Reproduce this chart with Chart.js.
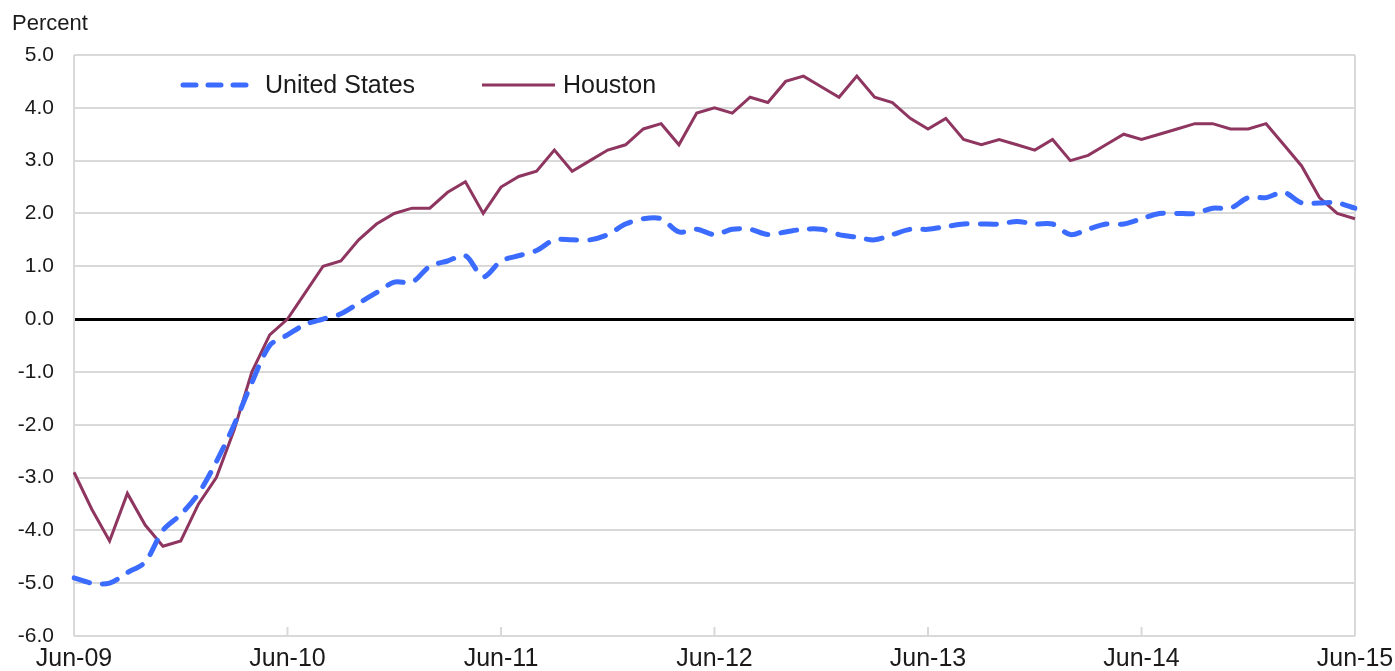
<!DOCTYPE html>
<html>
<head>
<meta charset="utf-8">
<script src="https://cdn.jsdelivr.net/npm/chart.js@4.4.0/dist/chart.umd.min.js"></script>
<style>
  html, body { margin: 0; padding: 0; background: #fff; }
  #wrap { position: relative; width: 1395px; height: 671px; }
</style>
</head>
<body>
<div id="wrap"><canvas id="chart" width="1395" height="671"></canvas></div>
<script>
// monthly, Jun-09 .. Jun-15
const monthNames = ['Jan', 'Feb', 'Mar', 'Apr', 'May', 'Jun', 'Jul', 'Aug', 'Sep', 'Oct', 'Nov', 'Dec'];
const months = [];
for (let y = 2009; y <= 2015; y++) {
  for (let m = 0; m < 12; m++) {
    if ((y === 2009 && m < 5) || (y === 2015 && m > 5)) continue;
    months.push(monthNames[m] + '-' + String(y).slice(2));
  }
}

const unitedStates = [
  -4.9, -5.0, -5.0, -4.8, -4.6, -4.0, -3.7, -3.3, -2.7, -2.0, -1.2, -0.5,
  -0.3, -0.1, 0.0, 0.1, 0.3, 0.5, 0.7, 0.7, 1.0, 1.1, 1.2, 0.8,
  1.1, 1.2, 1.3, 1.5, 1.5, 1.5, 1.6, 1.8, 1.9, 1.9, 1.65, 1.7,
  1.6, 1.7, 1.7, 1.6, 1.65, 1.7, 1.7, 1.6, 1.55, 1.5, 1.6, 1.7,
  1.7, 1.75, 1.8, 1.8, 1.8, 1.85, 1.8, 1.8, 1.6, 1.7, 1.8, 1.8,
  1.9, 2.0, 2.0, 2.0, 2.1, 2.1, 2.3, 2.3, 2.4, 2.2, 2.2, 2.2,
  2.1
];

const houston = [
  -2.9, -3.6, -4.2, -3.3, -3.9, -4.3, -4.2, -3.5, -3.0, -2.1, -1.0, -0.3,
  0.0, 0.5, 1.0, 1.1, 1.5, 1.8, 2.0, 2.1, 2.1, 2.4, 2.6, 2.0,
  2.5, 2.7, 2.8, 3.2, 2.8, 3.0, 3.2, 3.3, 3.6, 3.7, 3.3, 3.9,
  4.0, 3.9, 4.2, 4.1, 4.5, 4.6, 4.4, 4.2, 4.6, 4.2, 4.1, 3.8,
  3.6, 3.8, 3.4, 3.3, 3.4, 3.3, 3.2, 3.4, 3.0, 3.1, 3.3, 3.5,
  3.4, 3.5, 3.6, 3.7, 3.7, 3.6, 3.6, 3.7, 3.3, 2.9, 2.3, 2.0,
  1.9
];

const tickLabels = ['Jun-09', 'Jun-10', 'Jun-11', 'Jun-12', 'Jun-13', 'Jun-14', 'Jun-15'];

const FONT = "'Liberation Sans', Arial, sans-serif";
const TEXT = '#1a1a1a';
const GRID = '#d9d9d9';

// frame, inner year ticks, "Percent" label and the legend
const decorations = {
  id: 'decorations',
  beforeDatasetsDraw(chart) {
    const { ctx, chartArea: a, scales } = chart;
    ctx.save();
    ctx.strokeStyle = GRID;
    ctx.lineWidth = 2;
    ctx.beginPath();
    ctx.moveTo(a.left, a.top); ctx.lineTo(a.left, a.bottom);
    ctx.moveTo(a.right, a.top); ctx.lineTo(a.right, a.bottom);
    months.forEach((m, i) => {
      if (i % 12 !== 0) return;
      const x = scales.x.getPixelForValue(i);
      ctx.moveTo(x, a.bottom); ctx.lineTo(x, a.bottom - 9);
    });
    ctx.stroke();
    ctx.restore();
  },
  afterDraw(chart) {
    const { ctx, chartArea: a } = chart;
    ctx.save();
    ctx.fillStyle = TEXT;
    ctx.font = '22px ' + FONT;
    ctx.textBaseline = 'alphabetic';
    ctx.fillText('Percent', 12, 30);

    const items = [
      { ds: chart.data.datasets[0], x0: a.left + 109, x1: a.left + 174, gap: 17, dash: [13, 12] },
      { ds: chart.data.datasets[1], x0: a.left + 408, x1: a.left + 481, gap: 8, dash: [] }
    ];
    const y = a.top + 30;
    ctx.font = '25px ' + FONT;
    ctx.textBaseline = 'middle';
    items.forEach(it => {
      ctx.strokeStyle = it.ds.borderColor;
      ctx.lineWidth = it.ds.borderWidth;
      ctx.lineCap = it.ds.borderCapStyle || 'butt';
      ctx.setLineDash(it.dash);
      ctx.beginPath();
      ctx.moveTo(it.x0, y); ctx.lineTo(it.x1, y);
      ctx.stroke();
      ctx.setLineDash([]);
      ctx.fillText(it.ds.label, it.x1 + it.gap, y + 1);
    });
    ctx.restore();
  }
};

new Chart(document.getElementById('chart'), {
  type: 'line',
  data: {
    labels: months,
    datasets: [
      {
        label: 'United States',
        data: unitedStates,
        borderColor: '#3b6cff',
        borderWidth: 5,
        borderDash: [16, 13],
        borderCapStyle: 'round',
        pointRadius: 0,
        tension: 0.3,
        fill: false
      },
      {
        label: 'Houston',
        data: houston,
        borderColor: '#8e3560',
        borderWidth: 3,
        pointRadius: 0,
        tension: 0,
        fill: false
      }
    ]
  },
  plugins: [decorations],
  options: {
    responsive: false,
    animation: false,
    devicePixelRatio: 1,
    layout: { padding: { top: 55, right: 40, left: 0, bottom: 0 } },
    plugins: {
      legend: { display: false },
      tooltip: { enabled: false }
    },
    scales: {
      x: {
        type: 'category',
        offset: false,
        grid: { display: false },
        border: { display: false },
        afterFit(scale) { scale.height = 35; },
        ticks: {
          autoSkip: false,
          maxRotation: 0,
          padding: 0,
          color: TEXT,
          font: { family: FONT, size: 25 },
          callback: (v, i) => (i % 12 === 0 ? tickLabels[i / 12] : null)
        }
      },
      y: {
        min: -6,
        max: 5,
        afterFit(scale) { scale.width = 74; },
        border: { display: false },
        grid: {
          drawTicks: false,
          color: c => (c.tick && c.tick.value === 0 ? '#000' : GRID),
          lineWidth: c => (c.tick && c.tick.value === 0 ? 3 : 2)
        },
        ticks: {
          stepSize: 1,
          padding: 20,
          color: TEXT,
          font: { family: FONT, size: 21 },
          callback: v => v.toFixed(1)
        }
      }
    }
  }
});
</script>
</body>
</html>
